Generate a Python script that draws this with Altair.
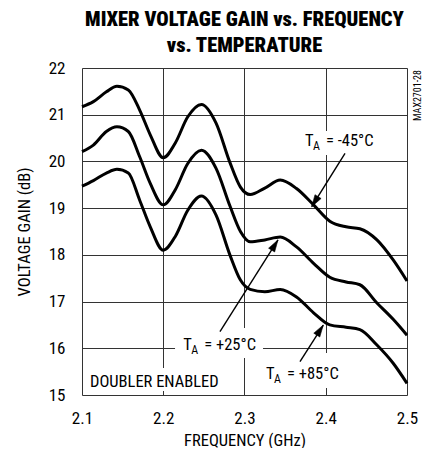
import altair as alt
import pandas as pd

# ---- data ----
freq = [2.100, 2.114, 2.130, 2.143, 2.157, 2.171, 2.184, 2.200, 2.215, 2.230,
        2.247, 2.265, 2.282, 2.295, 2.307, 2.325, 2.344, 2.364, 2.385, 2.405,
        2.425, 2.442, 2.463, 2.483, 2.500]
gain_m45 = [21.17, 21.28, 21.49, 21.61, 21.53, 21.10, 20.57, 20.08, 20.40, 20.95,
            21.22, 20.82, 19.98, 19.45, 19.29, 19.43, 19.60, 19.42, 19.07, 18.72,
            18.60, 18.56, 18.32, 17.89, 17.44]
gain_p25 = [20.21, 20.35, 20.64, 20.74, 20.64, 20.10, 19.53, 19.07, 19.40, 19.95,
            20.24, 19.85, 19.05, 18.50, 18.28, 18.32, 18.38, 18.17, 17.82, 17.52,
            17.42, 17.36, 16.97, 16.62, 16.28]
gain_p85 = [19.47, 19.59, 19.75, 19.83, 19.75, 19.17, 18.60, 18.10, 18.40, 18.95,
            19.26, 18.85, 18.00, 17.46, 17.26, 17.21, 17.26, 17.10, 16.76, 16.50,
            16.45, 16.40, 16.07, 15.68, 15.25]
series_names = ["-45", "+25", "+85"]

x_ticks = [2.1, 2.2, 2.3, 2.4, 2.5]
y_ticks = [15, 16, 17, 18, 19, 20, 21, 22]

# annotation labels (text after the subscript) and anchors
label_rest = ["= -45°C", "= +25°C", "= +85°C"]
label_f = [2.3745, 2.2247, 2.3265]
label_v = [20.32, 15.974, 15.353]

# arrows: start -> tip
arrow_f0 = [2.4237, 2.2698, 2.3683]
arrow_v0 = [20.17, 16.355, 15.713]
arrow_f1 = [2.3827, 2.3412, 2.3970]
arrow_v1 = [19.03, 18.32, 16.498]
arrow_angle = [212, 32, 33]

# white knock-out boxes behind labels (grid is interrupted there)
box_f0 = [2.3683, 2.2145, 2.1049, 2.3191]
box_f1 = [2.4668, 2.3228, 2.2748, 2.4200]
box_v0 = [20.651, 16.434, 15.578, 15.899]
box_v1 = [20.138, 15.792, 15.086, 15.150]

FONT = ("Roboto Condensed, Noto Sans Condensed, Open Sans Condensed, "
        "Liberation Sans Narrow, Arial Narrow, DejaVu Sans Condensed, sans-serif")

rows = []
for name, vals in zip(series_names, [gain_m45, gain_p25, gain_p85]):
    for f, v in zip(freq, vals):
        rows.append({"f": f, "v": v, "s": name})
df = pd.DataFrame(rows)

labels = pd.DataFrame({"f": label_f, "v": label_v, "rest": label_rest})
arrows = pd.DataFrame({"f0": arrow_f0, "v0": arrow_v0, "f1": arrow_f1,
                       "v1": arrow_v1, "ang": arrow_angle})
boxes = pd.DataFrame({"f0": box_f0, "f1": box_f1, "v0": box_v0, "v1": box_v1})
note = pd.DataFrame({"f": [2.1098], "v": [15.171], "t": ["DOUBLER ENABLED"]})

xscale = alt.Scale(domain=[2.1, 2.5], nice=False, zero=False)
yscale = alt.Scale(domain=[15, 22], nice=False, zero=False)

xaxis = alt.Axis(values=x_ticks, format=".1f", title="FREQUENCY (GHz)",
                 grid=True, ticks=False, domain=False, labelFontSize=17,
                 labelPadding=15, titlePadding=6, titleFontSize=16.5,
                 titleFontWeight="normal", labelFont=FONT, titleFont=FONT,
                 labelColor="black", titleColor="black",
                 gridColor="#333", gridWidth=1, labelFlush=False)
yaxis = alt.Axis(values=y_ticks, format="d", title="VOLTAGE GAIN (dB)",
                 grid=True, ticks=False, domain=False, labelFontSize=17,
                 labelPadding=17, titlePadding=16, titleFontSize=16.5,
                 titleFontWeight="normal", labelFont=FONT, titleFont=FONT,
                 labelColor="black", titleColor="black",
                 gridColor="#333", gridWidth=1, labelFlush=False)

base_x = alt.X("f:Q", scale=xscale, axis=xaxis)
base_y = alt.Y("v:Q", scale=yscale, axis=yaxis)

knock = alt.Chart(boxes).mark_rect(fill="white").encode(
    x=alt.X("f0:Q", scale=xscale, axis=xaxis), x2="f1:Q",
    y=alt.Y("v0:Q", scale=yscale, axis=yaxis), y2="v1:Q")

lines = alt.Chart(df).mark_line(color="black", strokeWidth=3,
                                interpolate="monotone").encode(
    x=base_x, y=base_y, detail="s:N")

rules = alt.Chart(arrows).mark_rule(color="black", strokeWidth=1.4).encode(
    x=alt.X("f0:Q", scale=xscale), y=alt.Y("v0:Q", scale=yscale),
    x2="f1:Q", y2="v1:Q")

heads = alt.Chart(arrows).mark_point(
    shape="M0,0L-0.6,2L0.6,2Z", filled=True, fill="black", stroke="black",
    strokeWidth=0.5, size=144, opacity=1).encode(
    x=alt.X("f1:Q", scale=xscale), y=alt.Y("v1:Q", scale=yscale),
    angle=alt.Angle("ang:Q", scale=None))

ANN = 16.5
t_main = alt.Chart(labels).mark_text(text="T", align="left", baseline="alphabetic",
                                     fontSize=ANN, font=FONT, color="black").encode(
    x=alt.X("f:Q", scale=xscale), y=alt.Y("v:Q", scale=yscale))
t_sub = alt.Chart(labels).mark_text(text="A", align="left", baseline="alphabetic",
                                    fontSize=12, font=FONT, color="black",
                                    dx=8, dy=4).encode(
    x=alt.X("f:Q", scale=xscale), y=alt.Y("v:Q", scale=yscale))
t_rest = alt.Chart(labels).mark_text(align="left", baseline="alphabetic",
                                     fontSize=ANN, font=FONT, color="black",
                                     dx=21).encode(
    x=alt.X("f:Q", scale=xscale), y=alt.Y("v:Q", scale=yscale), text="rest:N")

t_note = alt.Chart(note).mark_text(align="left", baseline="alphabetic",
                                   fontSize=ANN, font=FONT, color="black").encode(
    x=alt.X("f:Q", scale=xscale), y=alt.Y("v:Q", scale=yscale), text="t:N")

t_max = alt.Chart(note).mark_text(text="MAX2701-28", angle=270, align="right",
                                  baseline="middle", fontSize=10, font=FONT,
                                  color="black").encode(
    x=alt.value(336), y=alt.value(2))

chart = alt.layer(knock, lines, rules, heads, t_main, t_sub, t_rest, t_note, t_max).properties(
    width=325, height=327,
    padding={"left": 74, "top": 60, "right": 20, "bottom": 53},
    autosize=alt.AutoSizeParams(type="none"),
    title=alt.TitleParams(["MIXER VOLTAGE GAIN vs. FREQUENCY", "vs. TEMPERATURE"],
                          font=FONT, fontSize=20.5, fontWeight=900,
                          color="black", anchor="middle", frame="group",
                          lineHeight=26, offset=3),
).configure_view(stroke="black", strokeWidth=3).configure(background="white")

chart.save("out.html", embed_options={"renderer": "svg", "actions": False})
